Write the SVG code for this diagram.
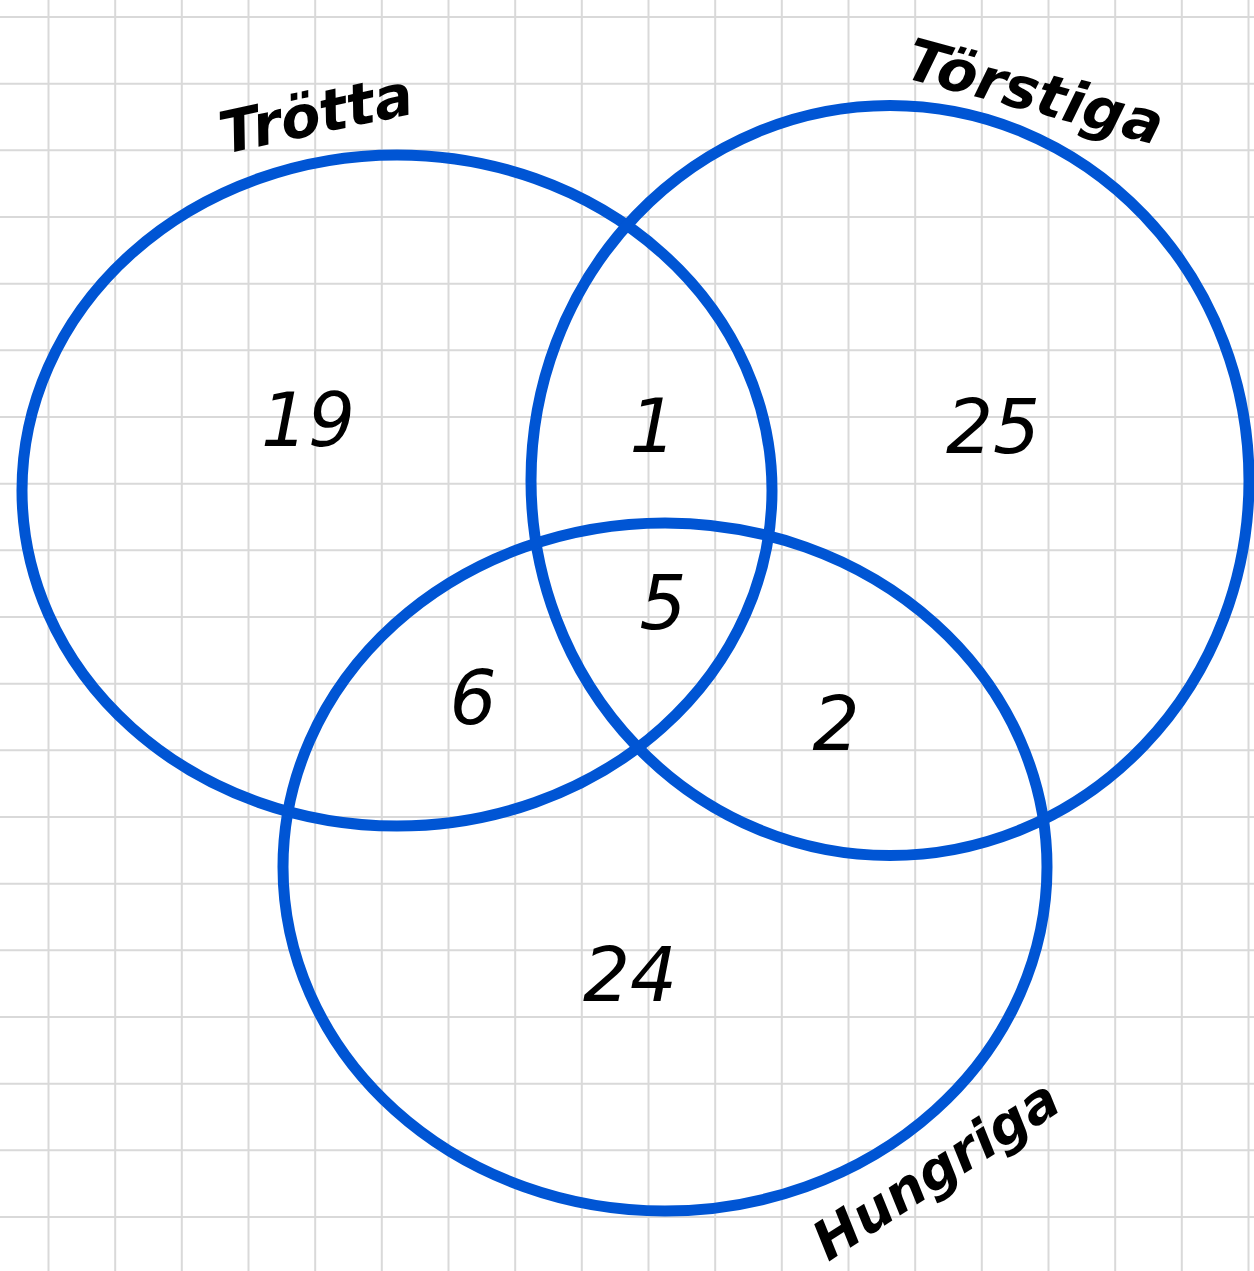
<svg xmlns="http://www.w3.org/2000/svg" width="1254" height="1271" viewBox="0 0 1254 1271">
<style>
.grid line{stroke:#d9d9d9;stroke-width:2}
.set{fill:none;stroke:#0055d4;stroke-width:11}
.num{font-family:"DejaVu Sans",sans-serif;font-style:italic;font-size:74px;fill:#000;text-anchor:middle;dominant-baseline:central}
.lbl{font-family:"DejaVu Sans",sans-serif;font-style:italic;font-weight:bold;font-size:58px;fill:#000;text-anchor:middle;dominant-baseline:central}
</style>
<rect width="1254" height="1271" fill="#fff"/>
<g class="grid">
<line x1="48.5" y1="0" x2="48.5" y2="1271"/><line x1="115.2" y1="0" x2="115.2" y2="1271"/><line x1="181.8" y1="0" x2="181.8" y2="1271"/><line x1="248.5" y1="0" x2="248.5" y2="1271"/><line x1="315.2" y1="0" x2="315.2" y2="1271"/><line x1="381.8" y1="0" x2="381.8" y2="1271"/><line x1="448.5" y1="0" x2="448.5" y2="1271"/><line x1="515.2" y1="0" x2="515.2" y2="1271"/><line x1="581.8" y1="0" x2="581.8" y2="1271"/><line x1="648.5" y1="0" x2="648.5" y2="1271"/><line x1="715.2" y1="0" x2="715.2" y2="1271"/><line x1="781.8" y1="0" x2="781.8" y2="1271"/><line x1="848.5" y1="0" x2="848.5" y2="1271"/><line x1="915.2" y1="0" x2="915.2" y2="1271"/><line x1="981.8" y1="0" x2="981.8" y2="1271"/><line x1="1048.5" y1="0" x2="1048.5" y2="1271"/><line x1="1115.2" y1="0" x2="1115.2" y2="1271"/><line x1="1181.8" y1="0" x2="1181.8" y2="1271"/><line x1="1248.5" y1="0" x2="1248.5" y2="1271"/>
<line x1="0" y1="17" x2="1254" y2="17"/><line x1="0" y1="83.7" x2="1254" y2="83.7"/><line x1="0" y1="150.3" x2="1254" y2="150.3"/><line x1="0" y1="217" x2="1254" y2="217"/><line x1="0" y1="283.7" x2="1254" y2="283.7"/><line x1="0" y1="350.3" x2="1254" y2="350.3"/><line x1="0" y1="417" x2="1254" y2="417"/><line x1="0" y1="483.7" x2="1254" y2="483.7"/><line x1="0" y1="550.3" x2="1254" y2="550.3"/><line x1="0" y1="617" x2="1254" y2="617"/><line x1="0" y1="683.7" x2="1254" y2="683.7"/><line x1="0" y1="750.3" x2="1254" y2="750.3"/><line x1="0" y1="817" x2="1254" y2="817"/><line x1="0" y1="883.7" x2="1254" y2="883.7"/><line x1="0" y1="950.3" x2="1254" y2="950.3"/><line x1="0" y1="1017" x2="1254" y2="1017"/><line x1="0" y1="1083.7" x2="1254" y2="1083.7"/><line x1="0" y1="1150.3" x2="1254" y2="1150.3"/><line x1="0" y1="1217" x2="1254" y2="1217"/>
</g>
<g id="set-trotta">
<ellipse class="set" cx="397" cy="490.5" rx="375" ry="335.5"/>
<text class="lbl" transform="translate(316,114) rotate(-12)">Trötta</text>
</g>
<g id="set-torstiga">
<ellipse class="set" cx="890" cy="480.5" rx="359" ry="375"/>
<text class="lbl" transform="translate(1035,92) rotate(15)">Törstiga</text>
</g>
<g id="set-hungriga">
<ellipse class="set" cx="665" cy="867" rx="382" ry="344"/>
<text class="lbl" style="font-size:54px" transform="translate(936,1170) rotate(-33)">Hungriga</text>
</g>
<g id="counts">
<text class="num" x="308" y="420">19</text>
<text class="num" x="653" y="426">1</text>
<text class="num" x="993" y="427">25</text>
<text class="num" x="663" y="603">5</text>
<text class="num" x="473" y="698">6</text>
<text class="num" x="836" y="724">2</text>
<text class="num" x="630" y="975">24</text>
</g>
</svg>
